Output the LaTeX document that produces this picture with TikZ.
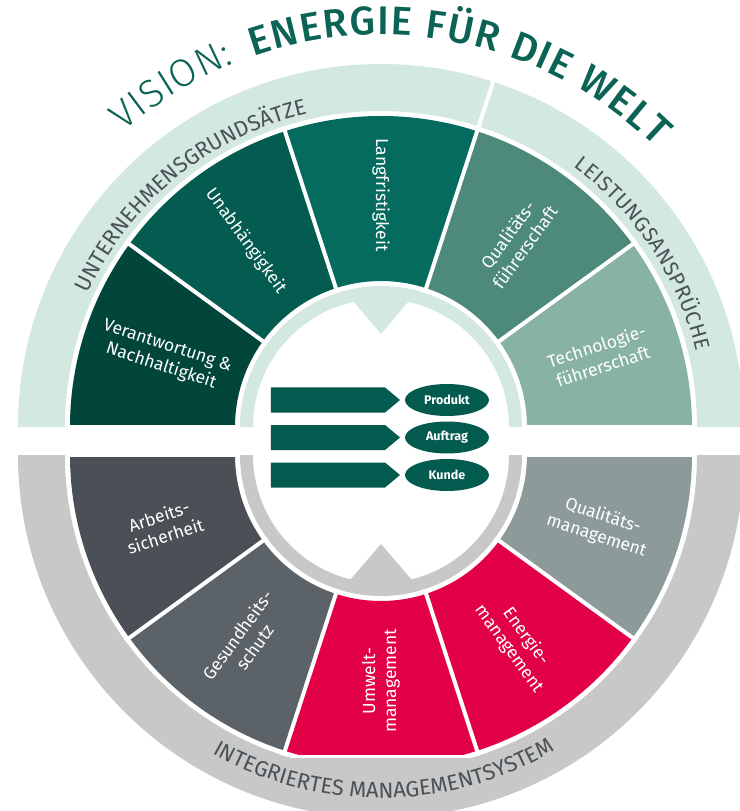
\documentclass[tikz,border=0pt]{standalone}
\usepackage{fontspec}
\setmainfont{Fira Sans}
\newfontfamily\visionlight{Fira Sans Light}
\newfontfamily\visionmedium{Fira Sans Medium}
\usetikzlibrary{decorations.text,shapes.geometric}

\definecolor{bandgreen}{HTML}{D3E8E0}
\definecolor{bandgray}{HTML}{C8C8C8}
\definecolor{vision}{HTML}{0B6356}
\definecolor{bandtext}{HTML}{4A5257}
\definecolor{verant}{HTML}{02463B}
\definecolor{unabh}{HTML}{045B4F}
\definecolor{langf}{HTML}{066B5F}
\definecolor{qualf}{HTML}{4D8A7C}
\definecolor{techf}{HTML}{87B2A5}
\definecolor{arbeit}{HTML}{4A5055}
\definecolor{gesund}{HTML}{5C6368}
\definecolor{umwelt}{HTML}{E20047}
\definecolor{qualm}{HTML}{8C9A99}
\definecolor{arrowteal}{HTML}{035A4F}

\begin{document}
\begin{tikzpicture}[x=1pt,y=1pt,
		seglabel/.style={text=white,align=center,inner sep=0pt,font=\fontsize{17.5}{21}\selectfont},
		gapline/.style={white,line width=4pt},
		pill/.style={ellipse,fill=arrowteal,text=white,inner sep=0pt,minimum width=84pt,minimum height=32pt,font=\bfseries\fontsize{12.5}{14}\selectfont}]
		\useasboundingbox (-381,-384) rectangle (358,427);
		% upper half
		\fill[bandgreen] (0:363pt) arc[start angle=0,end angle=180,radius=363pt] -- (180:316pt) arc[start angle=180,end angle=0,radius=316pt] -- cycle;
		\fill[techf] (0:146pt) -- (0:311pt) arc[start angle=0,end angle=36,radius=311pt] -- (36:146pt) arc[start angle=36,end angle=0,radius=146pt] -- cycle;
		\fill[qualf] (36:146pt) -- (36:311pt) arc[start angle=36,end angle=72,radius=311pt] -- (72:146pt) arc[start angle=72,end angle=36,radius=146pt] -- cycle;
		\fill[langf] (72:146pt) -- (72:311pt) arc[start angle=72,end angle=108,radius=311pt] -- (108:146pt) arc[start angle=108,end angle=72,radius=146pt] -- cycle;
		\fill[unabh] (108:146pt) -- (108:311pt) arc[start angle=108,end angle=144,radius=311pt] -- (144:146pt) arc[start angle=144,end angle=108,radius=146pt] -- cycle;
		\fill[verant] (144:146pt) -- (144:311pt) arc[start angle=144,end angle=180,radius=311pt] -- (180:146pt) arc[start angle=180,end angle=144,radius=146pt] -- cycle;
		\fill[bandgreen] (0:141pt) arc[start angle=0,end angle=180,radius=141pt] -- (180:128pt) arc[start angle=180,end angle=0,radius=128pt] -- cycle;
		\fill[bandgreen] (-33,132) -- (0,93) -- (33,132) -- cycle;
		\draw[gapline] (0:141pt) -- (0:316pt);
		\draw[gapline] (36:141pt) -- (36:316pt);
		\draw[gapline] (72:141pt) -- (72:366pt);
		\draw[gapline] (108:141pt) -- (108:316pt);
		\draw[gapline] (144:141pt) -- (144:316pt);
		\draw[gapline] (180:141pt) -- (180:316pt);
		\node[seglabel,rotate=-18] (verantwortung) at (162:228pt) {Verantwortung \&\\Nachhaltigkeit};
		\node[seglabel,rotate=-54] (unabhaengigkeit) at (126:230pt) {Unabhängigkeit};
		\node[seglabel,rotate=-90] (langfristigkeit) at (90:232pt) {Langfristigkeit};
		\node[seglabel,rotate=54] (qualitaetsf) at (54:230pt) {Qualitäts-\\führerschaft};
		\node[seglabel,rotate=18] (technologie) at (18:230pt) {Technologie-\\führerschaft};
		\path[decorate,decoration={text along path,text color=bandtext,text align={fit to path},
			text={|\fontsize{22}{22}\selectfont|UNTERNEHMENSGRUNDSÄTZE}}] (155.5:322pt) arc[start angle=155.5,end angle=104,radius=322pt];
		\path[decorate,decoration={text along path,text color=bandtext,text align={fit to path},
			text={|\fontsize{21}{21}\selectfont|LEISTUNGSANSPRÜCHE}}] (53.5:324pt) arc[start angle=53.5,end angle=13.5,radius=324pt];
		% lower half
		\begin{scope}[shift={(0,-28)}]
			\fill[bandgray] (180:363pt) arc[start angle=180,end angle=360,radius=363pt] -- (0:316pt) arc[start angle=360,end angle=180,radius=316pt] -- cycle;
			\begin{scope}
				\clip (0,0) circle[radius=317pt];
				\fill[bandgray] (-100,-303) rectangle (100,-330);
			\end{scope}
			\begin{scope}
				\clip (-330,0) rectangle (330,-299);
				\fill[arbeit] (180:146pt) -- (180:311pt) arc[start angle=180,end angle=216,radius=311pt] -- (216:146pt) arc[start angle=216,end angle=180,radius=146pt] -- cycle;
				\fill[gesund] (216:146pt) -- (216:311pt) arc[start angle=216,end angle=252,radius=311pt] -- (252:146pt) arc[start angle=252,end angle=216,radius=146pt] -- cycle;
				\fill[umwelt] (252:146pt) -- (252:311pt) arc[start angle=252,end angle=288,radius=311pt] -- (288:146pt) arc[start angle=288,end angle=252,radius=146pt] -- cycle;
				\fill[umwelt] (288:146pt) -- (288:311pt) arc[start angle=288,end angle=324,radius=311pt] -- (324:146pt) arc[start angle=324,end angle=288,radius=146pt] -- cycle;
				\fill[qualm] (324:146pt) -- (324:311pt) arc[start angle=324,end angle=360,radius=311pt] -- (360:146pt) arc[start angle=360,end angle=324,radius=146pt] -- cycle;
			\end{scope}
			\fill[bandgray] (180:141pt) arc[start angle=180,end angle=360,radius=141pt] -- (0:128pt) arc[start angle=360,end angle=180,radius=128pt] -- cycle;
			\fill[bandgray] (-37,-132) -- (0,-89) -- (37,-132) -- cycle;
			\draw[gapline] (180:141pt) -- (180:316pt);
			\draw[gapline] (216:141pt) -- (216:316pt);
			\draw[gapline] (252:141pt) -- (252:316pt);
			\draw[gapline] (288:141pt) -- (288:316pt);
			\draw[gapline] (324:141pt) -- (324:316pt);
			\draw[gapline] (360:141pt) -- (360:316pt);
			\node[seglabel,rotate=18] (arbeits) at (198:230pt) {Arbeits-\\sicherheit};
			\node[seglabel,rotate=54] (gesundheits) at (234:230pt) {Gesundheits-\\schutz};
			\node[seglabel,rotate=90] (umweltm) at (270:226pt) {Umwelt-\\management};
			\node[seglabel,rotate=-54] (energiem) at (306:232pt) {Energie-\\management};
			\node[seglabel,rotate=-18] (qualitaetsm) at (342:230pt) {Qualitäts-\\management};
			\path[decorate,decoration={text along path,text color=bandtext,text align={fit to path},
				text={|\fontsize{22}{22}\selectfont|INTEGRIERTES MANAGEMENTSYSTEM}}] (240.5:343pt) arc[start angle=240.5,end angle=299.5,radius=343pt];
		\end{scope}
		% vision
		\path[decorate,decoration={text along path,text color=vision,text align={fit to path},
			text={|\visionlight\fontsize{39}{39}\selectfont|VISION:}}] (131:392pt) arc[start angle=131,end angle=112,radius=392pt];
		\path[decorate,decoration={text along path,text color=vision,text align={fit to path},
			text={|\visionmedium\fontsize{40}{40}\selectfont|ENERGIE FÜR DIE WELT}}] (109:392pt) arc[start angle=109,end angle=45.5,radius=392pt];
		% centre
		\fill[arrowteal] (-110,39.5) -- (4,39.5) -- (19,27) -- (4,14.5) -- (-110,14.5) -- cycle;
		\fill[arrowteal] (-110,2) -- (4,2) -- (19,-10.5) -- (4,-23) -- (-110,-23) -- cycle;
		\fill[arrowteal] (-110,-35.5) -- (4,-35.5) -- (19,-48) -- (4,-60.5) -- (-110,-60.5) -- cycle;
		\node[pill] (produkt) at (66,27) {Produkt};
		\node[pill] (auftrag) at (66,-10.5) {Auftrag};
		\node[pill] (kunde) at (66,-48) {Kunde};
	\end{tikzpicture}
\end{document}
